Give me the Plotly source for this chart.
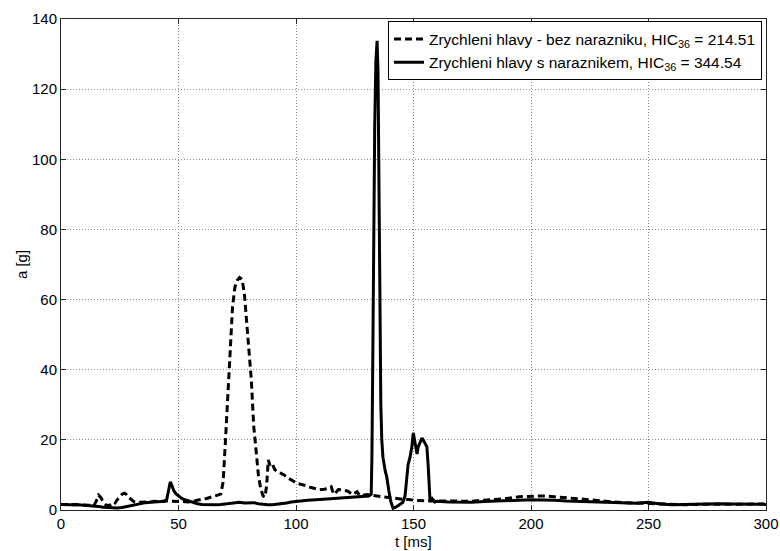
import plotly.graph_objects as go

# Series 1: Zrychleni hlavy - bez narazniku (dashed)
t_bez = [0, 2, 4, 6, 8, 10, 12, 14, 15, 16, 17, 18, 19, 20, 21, 22, 23, 24, 25, 26,
         27, 28, 29, 30, 31, 32, 34, 36, 38, 40, 42, 44, 46, 48, 50, 52, 54, 56, 58, 60,
         62, 64, 66, 67, 68, 69, 70, 71, 72, 73, 74, 75, 76, 77, 78, 79, 80, 81, 82, 83,
         84, 85, 86, 86.8, 87.5, 88.2, 89, 90, 91, 92, 93, 94, 95, 96, 97, 98, 99, 100,
         102, 104, 106, 108, 110, 112, 114, 115, 116, 117, 118, 120, 122, 124, 125, 126,
         127, 128, 129, 130, 132, 134, 136, 138, 140, 142, 144, 146, 148, 150, 155, 160,
         165, 170, 175, 180, 185, 190, 195, 200, 205, 210, 215, 220, 225, 230, 235, 240,
         245, 250, 255, 260, 265, 270, 275, 280, 285, 290, 295, 300]
a_bez = [1.6, 1.5, 1.6, 1.5, 1.5, 1.4, 1.4, 1.3, 2.5, 4.2, 3.5, 2.2, 1.5, 1.2, 1.5, 2.2, 2.0, 3.0, 3.6, 4.5,
         4.8, 4.3, 3.5, 2.8, 2.4, 2.2, 2.2, 2.4, 2.3, 2.5, 2.4, 2.6, 2.6, 2.6, 2.5, 2.4, 2.3, 2.4, 2.8, 3.0,
         3.3, 3.7, 4.0, 4.3, 4.6, 8.0, 20.0, 33.0, 44.0, 58.0, 63.5, 65.5, 66.3, 65.8, 62.0, 53.0, 45.0, 37.0, 24.0, 17.0,
         10.0, 6.0, 4.0, 3.7, 7.0, 14.3, 12.5, 13.0, 11.5, 11.0, 10.8, 10.3, 10.0, 9.3, 9.0, 8.5, 8.2, 7.7,
         7.4, 7.0, 6.5, 6.2, 5.8, 5.9, 6.2, 6.6, 4.5, 5.0, 5.8, 5.7, 5.4, 4.4, 4.8, 5.2,
         4.2, 4.5, 4.2, 4.4, 4.2, 4.0, 3.8, 3.6, 3.5, 3.3, 3.2, 3.0, 3.0, 2.8, 2.6, 2.6,
         2.4, 2.4, 2.5, 2.8, 3.0, 3.3, 3.8, 4.0, 4.0, 3.8, 3.5, 3.0, 2.8, 2.5, 2.3, 2.1,
         2.0, 1.8, 1.6, 1.5, 1.5, 1.6, 1.6, 1.7, 1.6, 1.6, 1.7, 1.7]

# Series 2: Zrychleni hlavy s naraznikem (solid)
t_s = [0, 2, 4, 6, 8, 10, 12, 14, 16, 18, 20, 22, 24, 26, 28, 30, 32, 34, 36, 38,
       40, 42, 44, 45, 46, 46.5, 47.2, 48, 49, 50, 51, 52, 54, 56, 58, 60, 62, 64, 66, 68,
       70, 72, 74, 76, 78, 80, 82, 84, 86, 88, 90, 92, 94, 96, 98, 100, 105, 110, 115, 120,
       125, 128, 130, 131, 132, 132.3, 132.7, 133.1, 133.5, 134, 134.5, 134.9, 135.3, 135.7,
       136.1, 136.5, 137, 138, 138.6, 139.5, 140.3, 141.3, 142.5, 144, 145.5, 146.4, 147,
       147.7, 148.5, 149.3, 149.9, 150.5, 151, 151.5, 152, 152.7, 153.6, 154.5, 155.7, 156.3,
       157, 157.5, 158, 159, 160, 165, 170, 175, 180, 185, 190, 195, 200, 205, 210, 215,
       220, 225, 230, 235, 240, 245, 250, 255, 260, 265, 270, 275, 280, 285, 290, 295, 300]
a_s = [1.6, 1.5, 1.5, 1.6, 1.5, 1.5, 1.4, 1.3, 1.0, 0.8, 0.7, 0.6, 0.6, 0.7, 1.0, 1.3, 1.6, 1.9, 2.1, 2.2,
       2.3, 2.4, 2.5, 3.0, 6.5, 8.0, 7.0, 5.5, 4.6, 4.0, 3.5, 3.1, 2.6, 2.2, 1.8, 1.6, 1.5, 1.5, 1.5, 1.6,
       1.8, 2.0, 2.1, 2.2, 2.0, 2.0, 2.1, 1.8, 1.6, 1.5, 1.5, 1.6, 1.8, 2.0, 2.3, 2.5, 2.8, 3.0, 3.2, 3.4,
       3.6, 3.8, 3.8, 4.0, 4.5, 15.0, 45.0, 80.0, 110.0, 128.0, 133.8, 125.0, 95.0, 55.0,
       30.0, 20.0, 15.0, 11.0, 9.5, 5.5, 2.5, 0.5, 0.8, 1.5, 2.2, 4.0, 9.0,
       13.0, 15.0, 18.0, 22.0, 20.0, 18.0, 16.0, 18.0, 19.0, 20.5, 19.5, 18.0, 12.0,
       3.0, 2.5, 3.2, 2.3, 2.5, 2.3, 2.2, 2.2, 2.4, 2.6, 2.7, 2.8, 2.9, 2.9, 2.8, 2.6,
       2.5, 2.4, 2.3, 2.2, 2.1, 1.9, 2.2, 1.7, 1.5, 1.6, 1.7, 1.8, 1.8, 1.7, 1.6, 1.7, 1.6]

name_bez = "Zrychleni hlavy - bez narazniku, HIC<sub>36</sub> = 214.51"
name_s = "Zrychleni hlavy s naraznikem, HIC<sub>36</sub> = 344.54"

x_ticks = [0, 50, 100, 150, 200, 250, 300]
y_ticks = [0, 20, 40, 60, 80, 100, 120, 140]

FONT = "Liberation Sans, Arial, sans-serif"

fig = go.Figure()
fig.add_trace(go.Scatter(x=t_bez, y=a_bez, mode="lines", name=name_bez,
                         line=dict(color="black", width=3, dash="7px,4px")))
fig.add_trace(go.Scatter(x=t_s, y=a_s, mode="lines", name=name_s,
                         line=dict(color="black", width=3)))

axis_common = dict(showline=True, linecolor="#262626", linewidth=1, mirror="ticks",
                   ticks="inside", ticklen=5, tickcolor="#262626", automargin=False,
                   showgrid=True, gridcolor="#8c8c8c", griddash="1px,2px", gridwidth=1,
                   zeroline=False, tickfont=dict(size=15, color="black", family=FONT))

fig.update_xaxes(range=[0, 300], tickvals=x_ticks, **axis_common)
fig.update_yaxes(range=[0, 140], tickvals=y_ticks, title=dict(text="a [g]", standoff=0,
                 font=dict(size=15, color="black", family=FONT)), **axis_common)

fig.add_annotation(text="t [ms]", x=0.5, y=0, xref="paper", yref="paper",
                   xanchor="center", yanchor="top", yshift=-21, showarrow=False,
                   font=dict(size=15, color="black", family=FONT))

fig.update_layout(
    width=780, height=551,
    margin=dict(l=61, r=14, t=19, b=41),
    paper_bgcolor="white", plot_bgcolor="white",
    font=dict(family=FONT, size=15, color="black"),
    legend=dict(x=0.9943, y=0.995, xanchor="right", yanchor="top",
                bgcolor="white", bordercolor="black", borderwidth=1,
                font=dict(size=15.5, family=FONT, color="black"),
                tracegroupgap=0, itemwidth=30),
)

fig.write_html("out.html")
